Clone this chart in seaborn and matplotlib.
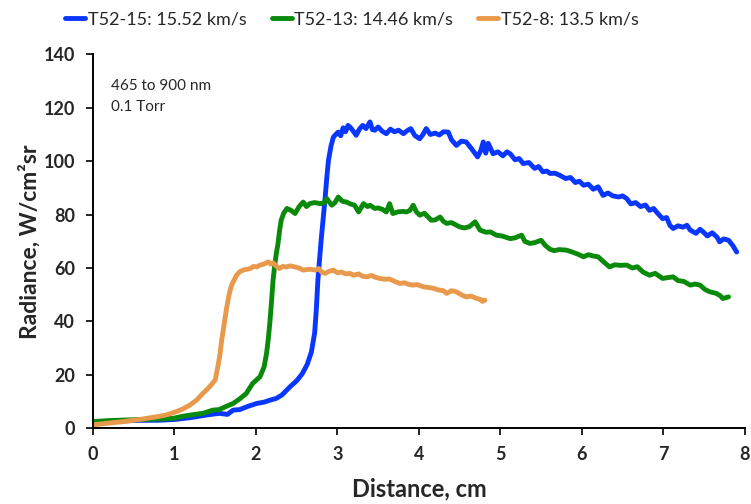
import matplotlib
matplotlib.use("Agg")
import matplotlib.pyplot as plt
import seaborn as sns
import pandas as pd

# Radiance traces (distance in cm, radiance in W/cm2sr)
t52_15_x = [0.00, 0.20, 0.40, 0.60, 0.80, 1.00, 1.20, 1.40, 1.55, 1.65, 1.72, 1.80, 1.90, 2.01, 2.10, 2.18, 2.25, 2.32,
            2.42, 2.50, 2.57, 2.63, 2.68, 2.72, 2.74, 2.76, 2.78, 2.80, 2.83, 2.85, 2.87, 2.89, 2.92, 2.95, 2.98, 3.01,
            3.04, 3.07, 3.10, 3.13, 3.16, 3.20, 3.23, 3.27, 3.31, 3.35, 3.40, 3.43, 3.46, 3.50, 3.55, 3.60, 3.65, 3.70,
            3.75, 3.81, 3.86, 3.90, 3.95, 4.01, 4.05, 4.09, 4.14, 4.20, 4.25, 4.30, 4.36, 4.40, 4.46, 4.52, 4.58, 4.65,
            4.72, 4.76, 4.79, 4.82, 4.85, 4.91, 4.97, 5.03, 5.08, 5.12, 5.18, 5.23, 5.28, 5.35, 5.42, 5.47, 5.52, 5.57,
            5.61, 5.67, 5.73, 5.80, 5.86, 5.92, 5.97, 6.02, 6.08, 6.14, 6.20, 6.26, 6.32, 6.38, 6.45, 6.50, 6.55, 6.60,
            6.66, 6.72, 6.78, 6.83, 6.88, 6.93, 6.99, 7.04, 7.08, 7.12, 7.18, 7.24, 7.29, 7.33, 7.40, 7.45, 7.49, 7.54,
            7.60, 7.66, 7.69, 7.74, 7.80, 7.85, 7.90]
t52_15_y = [2.0, 2.5, 2.8, 3.0, 3.0, 3.3, 4.0, 5.0, 5.6, 5.2, 6.8, 7.0, 8.2, 9.3, 9.8, 10.6, 11.2, 12.5,
            15.6, 17.8, 20.5, 24.0, 28.5, 35.6, 44.0, 55.4, 63.0, 70.4, 80.0, 86.6, 94.0, 100.3, 105.5, 109.0, 110.0, 110.9,
            109.5, 112.5, 111.0, 113.4, 112.6, 111.0, 109.7, 112.0, 113.4, 112.2, 114.7, 111.8, 111.6, 112.8, 111.2, 110.3, 112.0, 111.0,
            111.6, 110.3, 111.5, 112.2, 109.6, 108.4, 110.0, 112.2, 110.0, 110.5, 109.8, 111.0, 110.9, 108.0, 105.9, 107.5, 107.2, 104.5,
            101.6, 104.0, 107.2, 103.0, 106.7, 102.8, 103.5, 102.0, 103.5, 102.8, 100.5, 101.0, 99.1, 99.5, 97.3, 98.0, 96.0, 96.3,
            95.4, 95.5, 94.7, 93.5, 93.9, 92.0, 92.5, 91.0, 91.4, 89.5, 90.4, 87.2, 88.1, 87.0, 86.6, 87.0, 86.0, 84.0,
            84.5, 83.0, 83.6, 81.6, 82.3, 80.5, 78.5, 78.9, 76.0, 74.8, 75.8, 75.3, 76.0, 74.2, 73.0, 74.5, 73.5, 72.0,
            73.2, 71.5, 69.8, 70.9, 70.4, 68.5, 66.0]

t52_13_x = [0.00, 0.20, 0.40, 0.60, 0.80, 0.98, 1.10, 1.25, 1.35, 1.47, 1.55, 1.62, 1.72, 1.80, 1.88, 1.96, 2.05, 2.10,
            2.13, 2.15, 2.17, 2.19, 2.21, 2.23, 2.25, 2.27, 2.29, 2.31, 2.34, 2.38, 2.43, 2.48, 2.53, 2.58, 2.62, 2.66,
            2.72, 2.79, 2.84, 2.87, 2.93, 2.97, 3.01, 3.06, 3.11, 3.16, 3.21, 3.26, 3.32, 3.37, 3.40, 3.46, 3.50, 3.55,
            3.60, 3.64, 3.68, 3.74, 3.80, 3.85, 3.89, 3.93, 3.97, 4.01, 4.07, 4.15, 4.20, 4.26, 4.30, 4.34, 4.40, 4.45,
            4.50, 4.56, 4.62, 4.69, 4.75, 4.82, 4.88, 4.95, 5.02, 5.07, 5.12, 5.18, 5.26, 5.30, 5.36, 5.42, 5.50, 5.55,
            5.61, 5.66, 5.72, 5.81, 5.88, 5.95, 6.02, 6.08, 6.14, 6.20, 6.26, 6.34, 6.40, 6.47, 6.55, 6.62, 6.68, 6.75,
            6.83, 6.90, 6.99, 7.05, 7.12, 7.18, 7.25, 7.33, 7.39, 7.45, 7.51, 7.57, 7.65, 7.70, 7.73, 7.80]
t52_13_y = [2.5, 2.9, 3.1, 3.3, 3.5, 3.7, 4.5, 5.2, 5.6, 6.8, 7.0, 8.0, 9.3, 11.0, 13.0, 16.8, 19.3, 23.0,
            28.0, 33.0, 39.3, 47.0, 55.4, 61.0, 65.4, 69.0, 74.0, 77.9, 80.5, 82.3, 81.6, 80.4, 83.0, 84.7, 83.0, 84.1,
            84.5, 84.1, 84.5, 86.0, 83.5, 84.5, 86.6, 85.0, 84.7, 84.0, 83.5, 81.0, 84.1, 83.0, 83.5, 82.3, 82.5, 82.0,
            81.0, 84.1, 80.4, 81.0, 81.2, 81.0, 81.6, 83.5, 81.0, 79.8, 80.5, 77.9, 78.0, 79.1, 77.5, 76.7, 77.0, 76.2,
            75.4, 75.0, 75.5, 77.3, 74.2, 73.4, 73.5, 72.3, 72.0, 71.5, 71.0, 71.3, 72.3, 70.0, 69.2, 69.5, 70.4, 68.5,
            67.0, 66.5, 66.9, 66.7, 66.0, 65.2, 64.2, 65.0, 64.5, 64.2, 62.5, 60.4, 61.2, 61.0, 61.1, 60.0, 60.5, 58.5,
            57.3, 58.0, 56.1, 56.4, 56.7, 55.3, 55.0, 53.6, 54.0, 53.6, 52.0, 51.1, 50.5, 49.6, 48.6, 49.2]

t52_8_x = [0.00, 0.15, 0.37, 0.55, 0.78, 0.90, 1.02, 1.10, 1.19, 1.27, 1.35, 1.43, 1.50, 1.54, 1.56, 1.58, 1.60, 1.62,
           1.64, 1.67, 1.70, 1.72, 1.76, 1.80, 1.84, 1.88, 1.93, 1.97, 2.01, 2.05, 2.10, 2.15, 2.18, 2.21, 2.25, 2.29,
           2.33, 2.37, 2.42, 2.48, 2.53, 2.58, 2.63, 2.68, 2.73, 2.77, 2.81, 2.85, 2.90, 2.95, 3.00, 3.05, 3.10, 3.15,
           3.20, 3.26, 3.31, 3.36, 3.42, 3.47, 3.52, 3.58, 3.64, 3.70, 3.77, 3.82, 3.87, 3.93, 3.98, 4.05, 4.12, 4.18,
           4.24, 4.30, 4.34, 4.40, 4.46, 4.52, 4.58, 4.64, 4.71, 4.76, 4.78, 4.81]
t52_8_y = [1.3, 1.8, 2.5, 3.2, 4.3, 5.0, 6.2, 7.2, 8.7, 10.5, 13.1, 15.5, 18.1, 24.3, 28.0, 33.0, 37.0, 41.0,
           45.0, 50.0, 53.5, 54.8, 57.2, 58.6, 59.2, 59.5, 59.8, 60.6, 60.4, 61.1, 61.5, 62.3, 61.5, 62.0, 60.7, 59.8,
           60.6, 60.4, 60.8, 60.4, 60.0, 59.2, 59.5, 59.5, 59.2, 59.8, 58.4, 58.0, 58.8, 59.2, 58.2, 58.5, 57.8, 58.0,
           57.3, 57.8, 56.9, 56.7, 57.2, 56.5, 56.1, 55.8, 55.9, 55.0, 54.2, 54.5, 53.9, 53.6, 53.8, 53.0, 52.7, 52.4,
           51.8, 51.5, 50.5, 51.5, 51.1, 50.0, 49.2, 49.5, 48.6, 48.2, 47.5, 48.0]

series_labels = ["T52-15: 15.52 km/s", "T52-13: 14.46 km/s", "T52-8: 13.5 km/s"]
series_colors = ["#0A37FF", "#0A8A0A", "#E8994C"]
x_ticks = [0, 1, 2, 3, 4, 5, 6, 7, 8]
y_ticks = [0, 20, 40, 60, 80, 100, 120, 140]

frames = []
for lab, xs, ys in zip(series_labels,
                       [t52_15_x, t52_13_x, t52_8_x],
                       [t52_15_y, t52_13_y, t52_8_y]):
    frames.append(pd.DataFrame({"Distance": xs, "Radiance": ys, "Shot": lab}))
df = pd.concat(frames, ignore_index=True)

sns.set_style("ticks")
plt.rcParams["font.family"] = ["Lato", "DejaVu Sans"]

fig = plt.figure(figsize=(7.51, 5.04), dpi=100)
ax = fig.add_axes([0.1238, 0.1502, 0.868, 0.742])

sns.lineplot(data=df, x="Distance", y="Radiance", hue="Shot", hue_order=series_labels,
             palette=series_colors, sort=False, estimator=None, units="Shot",
             linewidth=3.5, ax=ax, legend=False)

ax.set_xlim(0, 8)
ax.set_ylim(0, 140)
ax.set_xticks(x_ticks)
ax.set_yticks(y_ticks)
for t in ax.get_xticklabels() + ax.get_yticklabels():
    t.set_fontweight("bold")
    t.set_fontsize(13)
ax.tick_params(axis="both", direction="out", length=5, width=1.2, color="black")
ax.tick_params(axis="y", pad=8)
ax.tick_params(axis="x", pad=8)
for side in ["left", "bottom"]:
    ax.spines[side].set_linewidth(1.4)
    ax.spines[side].set_color("black")
sns.despine(ax=ax)

ax.set_xlabel("Distance, cm", fontsize=17, fontweight="bold", labelpad=10)
ax.set_ylabel("Radiance, W/cm²sr", fontsize=16.5, fontweight="bold", labelpad=2)

ax.text(0.027, 0.935, "465 to 900 nm\n0.1 Torr", transform=ax.transAxes, fontsize=11,
        va="top", ha="left", linespacing=1.7)

handles = [plt.Line2D([], [], color=c, linewidth=3.5) for c in series_colors]
fig.legend(handles, series_labels, loc="upper left", bbox_to_anchor=(0.065, 1.01), ncol=3,
           frameon=False, fontsize=13, handlelength=1.1, handletextpad=0.15, columnspacing=1.4)

fig.savefig("out.png", dpi=100)
